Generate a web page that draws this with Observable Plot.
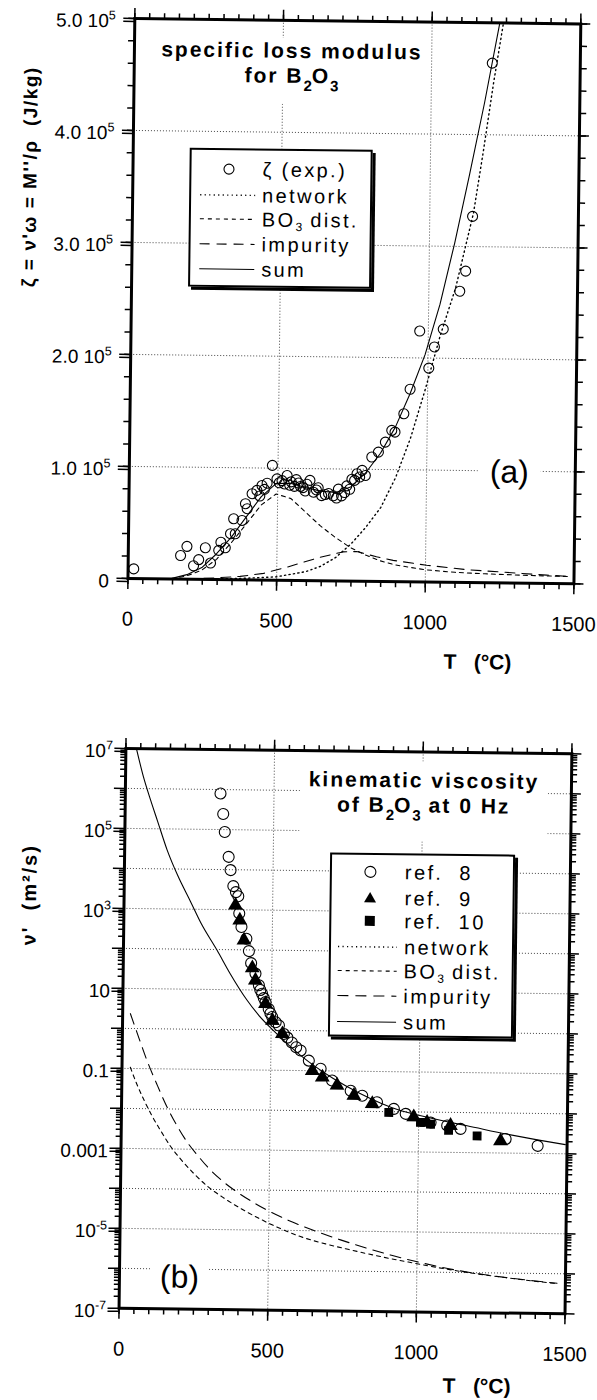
<!DOCTYPE html>
<html><head><meta charset="utf-8">
<script src="https://cdn.jsdelivr.net/npm/d3@7"></script>
<script src="https://cdn.jsdelivr.net/npm/@observablehq/plot@0.6"></script>
<style>
html,body{margin:0;padding:0;background:#fff;overflow:hidden;}
#page{position:relative;width:597px;height:1400px;transform:rotate(0.7deg);transform-origin:298.5px 700px;font-family:"Liberation Sans",Arial,Helvetica,sans-serif;color:#000;}
.abs{position:absolute;white-space:nowrap;}
.title{font-weight:bold;font-size:21px;letter-spacing:2px;text-align:center;background:#fff;line-height:25px;}
.title sub{font-size:15px;vertical-align:-8px;line-height:0;letter-spacing:0;}
.legend{position:absolute;box-sizing:border-box;border:2px solid #000;box-shadow:3px 3px 0 #000;background:#fff;}
.legend svg{position:absolute;left:0;top:0;}
.lt{position:absolute;font-size:20px;letter-spacing:2.4px;line-height:24px;height:24px;white-space:nowrap;}
.lt sub{font-size:12px;vertical-align:-4px;line-height:0;letter-spacing:0;}
.ylab{font-weight:bold;font-size:19px;letter-spacing:1.5px;transform:translate(-50%,-50%) rotate(-90deg);}
.xlab{font-weight:bold;font-size:21px;}
.panel{background:#fff;font-size:32px;line-height:34px;}
</style></head>
<body>
<div id="page">
  <div id="topChart" class="abs" style="left:0;top:0"></div>
  <div id="botChart" class="abs" style="left:0;top:700px"></div>
</div>
<script>
// ---------- axes / tick definitions ----------
const xTicks = [0, 500, 1000, 1500];
const xGrid = [500, 1000];
const yTicksA = [0, 1e5, 2e5, 3e5, 4e5, 5e5];
const yTickLabelsA = ["0", "1.0 10^5", "2.0 10^5", "3.0 10^5", "4.0 10^5", "5.0 10^5"];
const yGridA = [1e5, 2e5, 3e5, 4e5];
const yTicksB = [1e7, 1e5, 1e3, 10, 0.1, 0.001, 1e-5, 1e-7];
const yTickLabelsB = ["10^7", "10^5", "10^3", "10", "0.1", "0.001", "10^-5", "10^-7"];
const yGridB = [1e6, 1e5, 1e4, 1e3, 100, 10, 1, 0.1, 0.01, 0.001, 1e-4, 1e-5, 1e-6];

// ---------- panel (a): specific loss modulus, [T (°C), zeta (J/kg)] ----------
const zetaExp = [[19,8.6e3],[176,2.1e4],[197,2.92e4],[220,1.2e4],[237,1.75e4],[259,2.82e4],[277,1.46e4],
  [304,2.6e4],[311,3.33e4],[326,2.84e4],[343,4.1e4],[359,4.1e4],[353,5.44e4],[381,5.3e4],[392,6.8e4],
  [398,6.35e4],[414,7.7e4],[430,8.0e4],[447,8.44e4],[464,8.65e4],[481,1.025e5],[497,9.05e4],[514,8.9e4],
  [531,9.36e4],[522,8.6e4],[545,8.8e4],[556,8.4e4],[570,8.7e4],[585,8.3e4],[598,8.6e4],[608,8.95e4],
  [505,8.7e4],[540,8.5e4],[562,9.0e4],[576,8.4e4],[592,8.0e4],[630,8.1e4],[660,7.7e4],[698,7.4e4],
  [725,7.9e4],[742,8.2e4],[758,9.0e4],[775,9.3e4],[440,7.5e4],[455,8.1e4],
  [620,7.9e4],[636,8.3e4],[648,7.6e4],[671,7.8e4],[687,7.6e4],[704,8.2e4],[715,7.6e4],[732,8.5e4],
  [749,9.1e4],[766,9.6e4],[783,9.9e4],[794,9.45e4],[815,1.11e5],[837,1.155e5],[860,1.245e5],[881,1.35e5],
  [892,1.335e5],[921,1.5e5],[941,1.72e5],[971,2.24e5],[1003,1.91e5],[1021,2.1e5],[1050,2.26e5],
  [1104,2.6e5],[1123,2.78e5],[1144,3.27e5],[1204,4.64e5]];
const networkA = [[300,500],[400,1.5e3],[498,3e3],[598,8e3],[648,1.3e4],[698,2.1e4],[748,3.3e4],[797,4.8e4],
  [847,6.6e4],[896,9.3e4],[944,1.28e5],[992,1.72e5],[1040,2.2e5],[1090,2.63e5],[1147,3.3e5],[1178,3.86e5],
  [1209,4.46e5],[1240,5.0e5],[1250,5.2e5]];
const bo3A = [[148,0],[198,3e3],[247,8e3],[297,1.8e4],[346,3.3e4],[396,5.0e4],[445,6.7e4],[495,7.7e4],
  [545,7.3e4],[595,6.1e4],[645,4.9e4],[695,3.9e4],[746,3.0e4],[797,2.35e4],[847,1.85e4],[897,1.5e4],
  [998,1.1e4],[1099,9e3],[1200,8e3],[1350,7e3],[1490,6.5e3]];
const impurityA = [[198,0],[298,1.5e3],[377,3.0e3],[456,6e3],[537,1.2e4],[645,2.1e4],[722,2.6e4],[768,2.65e4],
  [835,2.2e4],[891,1.9e4],[1004,1.5e4],[1140,1.15e4],[1408,7.5e3],[1490,6.5e3]];
const sumA = [[148,500],[198,4e3],[248,1.05e4],[297,2.3e4],[346,3.8e4],[396,5.65e4],[445,7.45e4],[495,8.65e4],
  [545,8.65e4],[595,8.3e4],[645,8.0e4],[695,7.9e4],[745,8.4e4],[794,9.65e4],[844,1.145e5],[893,1.38e5],
  [941,1.68e5],[990,2.03e5],[1038,2.48e5],[1085,3.03e5],[1132,3.64e5],[1180,4.29e5],[1227,4.99e5],[1240,5.2e5]];

// ---------- panel (b): kinematic viscosity, [T (°C), log10 nu' (m^2/s)] ----------
const ref8 = [[320,5.90],[330,5.39],[336,4.94],[350,4.32],[357,3.99],[367,3.59],[376,3.44],[384,3.34],
  [388,2.91],[396,2.57],[413,2.28],[422,1.97],[430,1.67],[445,1.41],[457,1.12],[468,0.91],[480,0.70],
  [491,0.53],[503,0.33],[526,0.12],[543,-0.09],[570,-0.30],[585,-0.42],[600,-0.50],[628,-0.75],[668,-0.95],
  [707,-1.24],[770,-1.49],[809,-1.61],[859,-1.77],[916,-1.93],[956,-2.05],[1040,-2.26],[1096,-2.33],
  [1141,-2.41],[1293,-2.65],[1401,-2.81],[462,1.0],[474,0.8],[497,0.42],[515,0.2],[555,-0.18]];
const ref9 = [[375,3.11],[390,2.74],[405,2.24],[434,1.55],[445,1.24],[480,0.66],[504,0.24],[538,-0.09],
  [640,-1.00],[674,-1.16],[724,-1.36],[781,-1.61],[843,-1.81],[983,-2.13],[1028,-2.26],[1107,-2.33],[1276,-2.70]];
const ref10 = [[899,-2.02],[1006,-2.26],[1040,-2.30],[1101,-2.45],[1197,-2.58]];
const sumB = [[32,7.1],[60,6.3],[85,5.72],[110,5.18],[143,4.47],[180,3.83],[223,3.2],[260,2.65],[315,1.98],
  [360,1.4],[418,0.74],[460,0.35],[508,-0.01],[600,-0.62],[711,-1.19],[800,-1.55],[938,-1.97],[1000,-2.08],
  [1100,-2.24],[1163,-2.33],[1300,-2.53],[1400,-2.66],[1494,-2.77]];
const bo3B = [[28,-0.97],[50,-1.38],[75,-1.78],[100,-2.14],[133,-2.55],[165,-2.92],[201,-3.25],[245,-3.6],
  [292,-3.92],[350,-4.22],[406,-4.47],[470,-4.72],[531,-4.93],[607,-5.15],[700,-5.34],[771,-5.46],[880,-5.63],
  [991,-5.78],[1100,-5.92],[1215,-6.04],[1340,-6.15],[1472,-6.25]];
const impurityB = [[26,0.37],[50,-0.12],[84,-0.80],[120,-1.42],[153,-1.95],[190,-2.45],[223,-2.83],[260,-3.17],
  [292,-3.44],[340,-3.77],[381,-4.0],[440,-4.28],[494,-4.5],[573,-4.77],[650,-4.99],[742,-5.22],[830,-5.42],
  [914,-5.59],[1010,-5.76],[1108,-5.91],[1200,-6.02],[1300,-6.11],[1400,-6.19],[1472,-6.24]];

// ---------- helpers ----------
const FONT = '"Liberation Sans", Arial, Helvetica, sans-serif';
const X = d => d[0], Y = d => d[1], YL = d => Math.pow(10, d[1]);
const labA = new Map(yTicksA.map((v, i) => [v, yTickLabelsA[i]]));
const labB = new Map(yTicksB.map((v, i) => [v, yTickLabelsB[i]]));
const xMinor = d3.range(0, 1501, 50);
const yMinorA = d3.range(0, 500001, 20000);
const yMinorB = [];
for (let k = -7; k < 7; k++) for (let m = 2; m <= 9; m++) yMinorB.push(m * Math.pow(10, k));
const yMajorB = d3.range(-7, 8).map(k => Math.pow(10, k));
const grid = {stroke: "#333", strokeWidth: 0.9, strokeDasharray: "1 2"};
const tk = {strokeWidth: 1.5, label: null, tickFormat: () => ""};

function supify(svg) {
  d3.select(svg).selectAll("text").each(function () {
    const t = this.textContent;
    const i = t.indexOf("^");
    if (i < 0) return;
    const s = d3.select(this);
    s.text(null);
    s.append("tspan").text(t.slice(0, i));
    s.append("tspan").attr("dy", "-8").attr("font-size", "12.5").text(t.slice(i + 1));
  });
}

function frameAxes(yMinor, yMajor, yLabeled, yFmt, leftPad, ySize) {
  return [
    Plot.frame({stroke: "#000", strokeWidth: 3}),
    Plot.axisX({...tk, anchor: "bottom", ticks: xMinor, tickSize: 6}),
    Plot.axisX({anchor: "bottom", ticks: xTicks, tickSize: 11, tickPadding: 22, strokeWidth: 1.5,
      label: null, tickFormat: d => String(d), fontSize: 20}),
    Plot.axisX({...tk, anchor: "top", ticks: xMinor, tickSize: 6}),
    Plot.axisX({...tk, anchor: "top", ticks: xTicks, tickSize: 11}),
    Plot.axisY({...tk, anchor: "left", ticks: yMinor, tickSize: ySize}),
    Plot.axisY({...tk, anchor: "left", ticks: yMajor, tickSize: 11}),
    Plot.axisY({anchor: "left", ticks: yLabeled, tickSize: 11, tickPadding: leftPad, strokeWidth: 1.5,
      label: null, tickFormat: yFmt, fontSize: 19, dy: 3}),
    Plot.axisY({...tk, anchor: "right", ticks: yMinor, tickSize: ySize}),
    Plot.axisY({...tk, anchor: "right", ticks: yMajor, tickSize: 9})
  ];
}

// ---------- panel (a) ----------
const topSvg = Plot.plot({
  width: 597, height: 700, marginLeft: 126, marginRight: 25, marginTop: 20, marginBottom: 120,
  style: {fontFamily: FONT, fontSize: "20px", color: "#000", background: "#fff", overflow: "visible"},
  x: {domain: [0, 1500]},
  y: {domain: [0, 5e5]},
  marks: [
    Plot.ruleX(xGrid, grid),
    Plot.ruleY(yGridA, grid),
    Plot.line(networkA, {x: X, y: Y, stroke: "#000", strokeWidth: 1.4, strokeDasharray: "1.2 3.3", clip: true}),
    Plot.line(bo3A, {x: X, y: Y, stroke: "#000", strokeWidth: 1.1, strokeDasharray: "4 4", clip: true}),
    Plot.line(impurityA, {x: X, y: Y, stroke: "#000", strokeWidth: 1.1, strokeDasharray: "10 7", clip: true}),
    Plot.line(sumA, {x: X, y: Y, stroke: "#000", strokeWidth: 1.1, clip: true}),
    Plot.dot(zetaExp, {x: X, y: Y, r: 5, stroke: "#000", strokeWidth: 1.1, fill: "none"}),
    ...frameAxes(yMinorA, yTicksA, yTicksA, d => labA.get(d), 8, 6)
  ]
});
supify(topSvg);
document.getElementById("topChart").append(topSvg);

// ---------- panel (b) ----------
const botSvg = Plot.plot({
  width: 597, height: 700, marginLeft: 126, marginRight: 25, marginTop: 50, marginBottom: 90,
  style: {fontFamily: FONT, fontSize: "20px", color: "#000", background: "#fff", overflow: "visible"},
  x: {domain: [0, 1500]},
  y: {type: "log", domain: [1e-7, 1e7]},
  marks: [
    Plot.ruleX(xGrid, grid),
    Plot.ruleY(yGridB, grid),
    Plot.line(bo3B, {x: X, y: YL, stroke: "#000", strokeWidth: 1.1, strokeDasharray: "4 4", clip: true, curve: "monotone-x"}),
    Plot.line(impurityB, {x: X, y: YL, stroke: "#000", strokeWidth: 1.1, strokeDasharray: "11 7", clip: true, curve: "monotone-x"}),
    Plot.line(sumB, {x: X, y: YL, stroke: "#000", strokeWidth: 1.1, clip: true, curve: "monotone-x"}),
    Plot.dot(ref8, {x: X, y: YL, r: 5.5, stroke: "#000", strokeWidth: 1.1, fill: "none"}),
    Plot.dot(ref9, {x: X, y: YL, r: 5.5, symbol: "triangle", fill: "#000"}),
    Plot.dot(ref10, {x: X, y: YL, r: 5, symbol: "square", fill: "#000"}),
    ...frameAxes(yMinorB, yMajorB, yTicksB, d => labB.get(d), 2, 5)
  ]
});
supify(botSvg);
document.getElementById("botChart").append(botSvg);

// ---------- annotations / legends (HTML overlays) ----------
const page = document.getElementById("page");
function add(html) { page.insertAdjacentHTML("beforeend", html); }

add(`<div class="abs title" style="left:149px;top:38px;width:270px;padding-bottom:16px">specific loss modulus<br>for B<sub>2</sub>O<sub>3</sub></div>`);
add(`<div class="abs title" style="left:301px;top:760px;width:248px;padding-top:6px;padding-bottom:24px">kinematic viscosity<br>of B<sub>2</sub>O<sub>3</sub> at 0 Hz</div>`);
add(`<div class="abs ylab" style="left:24px;top:180px">ζ = ν'ω = M''/ρ&nbsp; (J/kg)</div>`);
add(`<div class="abs ylab" style="left:32px;top:898px;font-size:20px;letter-spacing:2px">ν'&nbsp; (m²/s)</div>`);
add(`<div class="abs xlab" style="left:443px;top:648px">T&nbsp;&nbsp;&nbsp;(°C)</div>`);
add(`<div class="abs xlab" style="left:451px;top:1372px">T&nbsp;&nbsp;&nbsp;(°C)</div>`);
add(`<div class="abs panel" style="left:475px;top:452px;padding:0 12px">(a)</div>`);
add(`<div class="abs panel" style="left:157px;top:1261px;padding:0 10px">(b)</div>`);

const legA = [["sym", "ζ (exp.)"], ["1.2 3.3", "network"], ["4 4", "BO<sub>3</sub> dist."], ["10 7", "impurity"], ["", "sum"]];
const rowsA = [19, 45, 69, 94, 119];
let svgA = `<svg width="179" height="135">`;
let txtA = "";
legA.forEach(([k, t], i) => {
  const y = rowsA[i];
  if (k === "sym") svgA += `<circle cx="37.5" cy="${y}" r="5" fill="none" stroke="#000" stroke-width="1.1"/>`;
  else svgA += `<line x1="9" x2="64" y1="${y}" y2="${y}" stroke="#000" stroke-width="${k === "1.2 3.3" ? 1.4 : 1.1}" ${k ? `stroke-dasharray="${k}"` : ""}/>`;
  txtA += `<div class="lt" style="left:71px;top:${y - 12}px">${t}</div>`;
});
svgA += `</svg>`;
add(`<div class="legend" style="left:183px;top:149px;width:183px;height:139px">${svgA}${txtA}</div>`);

const legB = [["circle", "ref.&nbsp; 8"], ["tri", "ref.&nbsp; 9"], ["sq", "ref.&nbsp; 10"], ["1.2 3.3", "network"],
  ["4 4", "BO<sub>3</sub> dist."], ["11 7", "impurity"], ["", "sum"]];
const rowsB = [17, 43, 66, 92, 116, 141, 167];
let svgB = `<svg width="181" height="180">`;
let txtB = "";
legB.forEach(([k, t], i) => {
  const y = rowsB[i], cx = 38.5;
  if (k === "circle") svgB += `<circle cx="${cx}" cy="${y}" r="5.5" fill="none" stroke="#000" stroke-width="1.1"/>`;
  else if (k === "tri") svgB += `<path d="M${cx},${y - 6}L${cx + 6},${y + 4.5}L${cx - 6},${y + 4.5}Z" fill="#000"/>`;
  else if (k === "sq") svgB += `<rect x="${cx - 5}" y="${y - 5}" width="10" height="10" fill="#000"/>`;
  else svgB += `<line x1="7" x2="66" y1="${y}" y2="${y}" stroke="#000" stroke-width="${k === "1.2 3.3" ? 1.4 : 1.1}" ${k ? `stroke-dasharray="${k}"` : ""}/>`;
  txtB += `<div class="lt" style="left:73px;top:${y - 12}px">${t}</div>`;
});
svgB += `</svg>`;
add(`<div class="legend" style="left:332px;top:852px;width:185px;height:184px">${svgB}${txtB}</div>`);
</script>
</body></html>
